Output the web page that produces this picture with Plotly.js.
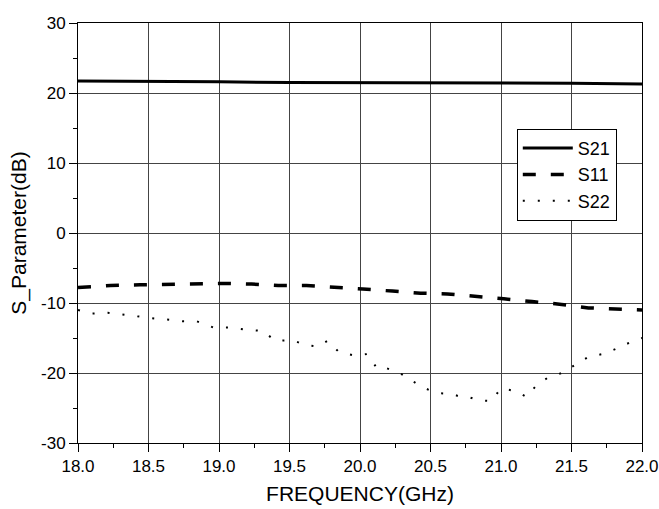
<!DOCTYPE html>
<html>
<head>
<meta charset="utf-8">
<script src="https://cdn.plot.ly/plotly-3.0.1.min.js"></script>
<style>html,body{margin:0;padding:0;background:#fff;}#chart{width:659px;height:509px;}</style>
</head>
<body>
<div id="chart"></div>
<script>
var s21Freq = [18.0, 18.5, 19.0, 19.5, 20.0, 20.5, 21.0, 21.5, 22.0];
var s21Vals = [21.7, 21.7, 21.6, 21.5, 21.5, 21.4, 21.4, 21.4, 21.3];

var s11Freq = [18.0, 18.23, 18.44, 18.65, 18.84, 19.03, 19.23, 19.42, 19.62, 19.82, 20.02, 20.23, 20.43, 20.62, 20.82, 21.02, 21.22, 21.43, 21.62, 21.82, 22.0];
var s11Vals = [-7.8, -7.5, -7.4, -7.3, -7.2, -7.2, -7.3, -7.5, -7.5, -7.7, -8.0, -8.3, -8.6, -8.7, -9.0, -9.4, -9.8, -10.2, -10.7, -10.8, -11.0];

var s22Freq = [18.0, 18.1, 18.21, 18.32, 18.42, 18.54, 18.65, 18.74, 18.84, 18.96, 19.08, 19.19, 19.31, 19.40, 19.52, 19.61, 19.70, 19.77, 19.85, 19.96, 20.05, 20.12, 20.16, 20.28, 20.34, 20.43, 20.51, 20.57, 20.65, 20.73, 20.78, 20.84, 20.93, 21.0, 21.11, 21.18, 21.25, 21.33, 21.43, 21.54, 21.62, 21.72, 21.81, 21.93, 22.0];
var s22Vals = [-11.0, -11.5, -11.4, -11.7, -11.9, -12.2, -12.4, -12.6, -12.6, -13.5, -13.5, -13.8, -14.0, -15.4, -15.3, -16.0, -16.2, -15.4, -17.0, -17.5, -17.3, -19.3, -19.1, -20.0, -20.7, -21.9, -22.6, -22.9, -23.0, -23.5, -23.5, -23.9, -24.0, -22.2, -22.6, -23.4, -21.8, -20.7, -20.0, -18.6, -17.7, -17.3, -16.6, -15.5, -15.0];

var xTicks = [18.0, 18.5, 19.0, 19.5, 20.0, 20.5, 21.0, 21.5, 22.0];
var xTickText = ["18.0", "18.5", "19.0", "19.5", "20.0", "20.5", "21.0", "21.5", "22.0"];
var yTicks = [-30, -20, -10, 0, 10, 20, 30];
var yTickText = ["-30", "-20", "-10", "0", "10", "20", "30"];

var font = "Liberation Sans, Arial, sans-serif";

var traces = [
  {x: s21Freq, y: s21Vals, name: "S21", mode: "lines", line: {color: "#000", width: 3}},
  {x: s11Freq, y: s11Vals, name: "S11", mode: "lines", line: {color: "#000", width: 3.5, dash: "13px,15px"}},
  {x: s22Freq, y: s22Vals, name: "S22", mode: "lines", line: {color: "#000", width: 2, dash: "2px,13px"}}
];

var axisCommon = {
  showline: true, linecolor: "#000", linewidth: 1, mirror: true,
  showgrid: true, gridcolor: "#444", gridwidth: 1,
  zeroline: false,
  ticks: "outside", ticklen: 8, tickcolor: "#000", tickwidth: 1,
  tickfont: {family: font, size: 17, color: "#000"},
  tickmode: "array"
};

var layout = {
  width: 659, height: 509,
  margin: {l: 78, r: 17, t: 23, b: 66},
  paper_bgcolor: "#fff", plot_bgcolor: "#fff",
  font: {family: font, color: "#000"},
  xaxis: Object.assign({}, axisCommon, {
    range: [18, 22], tickvals: xTicks, ticktext: xTickText,
    minor: {dtick: 0.25, tick0: 18, ticks: "outside", ticklen: 4, tickcolor: "#000", showgrid: false},
    title: {text: "FREQUENCY(GHz)", font: {family: font, size: 21, color: "#000"}, standoff: 10}
  }),
  yaxis: Object.assign({}, axisCommon, {
    range: [-30, 30], tickvals: yTicks, ticktext: yTickText,
    minor: {dtick: 5, tick0: 0, ticks: "outside", ticklen: 4, tickcolor: "#000", showgrid: false},
    title: {text: "S_Parameter(dB)", font: {family: font, size: 21, color: "#000"}, standoff: 8}
  }),
  showlegend: true,
  legend: {
    x: 0.778, y: 0.748, xanchor: "left", yanchor: "top",
    bgcolor: "#fff", bordercolor: "#000", borderwidth: 1,
    font: {family: font, size: 18, color: "#000"},
    itemwidth: 50,
    tracegroupgap: 0
  }
};

Plotly.newPlot("chart", traces, layout, {displayModeBar: false, staticPlot: true});
</script>
</body>
</html>
